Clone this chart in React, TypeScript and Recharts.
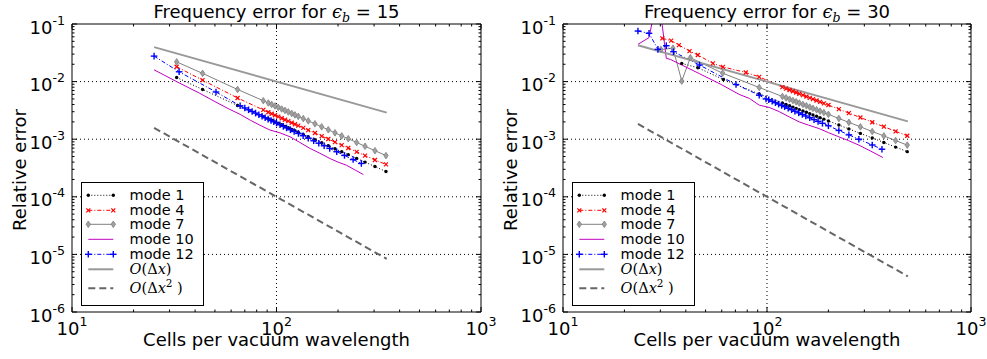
import React from 'react';
import { LineChart, Line, XAxis, YAxis, ReferenceLine, Label, Legend } from 'recharts';

const FONT = 'DejaVu Sans';
const MATH = 'DejaVu Serif';

// ---------- axis ticks ----------
const X_TICKS = [10, 20, 30, 40, 50, 60, 70, 80, 90, 100, 200, 300, 400, 500, 600, 700, 800, 900, 1000];
const Y_TICKS = [
  1e-6, 2e-6, 3e-6, 4e-6, 5e-6, 6e-6, 7e-6, 8e-6, 9e-6,
  1e-5, 2e-5, 3e-5, 4e-5, 5e-5, 6e-5, 7e-5, 8e-5, 9e-5,
  1e-4, 2e-4, 3e-4, 4e-4, 5e-4, 6e-4, 7e-4, 8e-4, 9e-4,
  1e-3, 2e-3, 3e-3, 4e-3, 5e-3, 6e-3, 7e-3, 8e-3, 9e-3,
  1e-2, 2e-2, 3e-2, 4e-2, 5e-2, 6e-2, 7e-2, 8e-2, 9e-2,
  1e-1,
];
const X_GRID = [100];
const Y_GRID = [1e-2, 1e-3, 1e-4, 1e-5];

// ---------- left panel (eps_b = 15) ----------
const leftMode1X = [32.5, 43.5, 64.5, 86.2, 91.2, 94.7, 98.3, 102, 106, 110, 114.2, 118.7, 123.1, 127.8, 135.2, 143, 154.2, 166.3, 179.2, 193.2, 208.4, 224.4, 246.6, 271, 303, 343];
const leftMode1Y = [0.0118, 0.0073, 0.00385, 0.00247, 0.00226, 0.00213, 0.002, 0.00189, 0.00178, 0.00167, 0.00158, 0.00148, 0.0014, 0.00132, 0.00121, 0.0011, 0.00098, 0.00087, 0.000774, 0.000684, 0.000604, 0.00054, 0.000464, 0.0004, 0.000335, 0.000275];
const leftMode4X = leftMode1X;
const leftMode4Y = [0.0181, 0.0106, 0.0052, 0.00322, 0.00294, 0.00277, 0.00261, 0.00246, 0.00231, 0.00218, 0.00206, 0.00193, 0.00182, 0.00172, 0.00157, 0.00144, 0.00128, 0.00113, 0.00101, 0.00089, 0.000787, 0.000704, 0.000604, 0.00052, 0.000436, 0.000365];
const leftMode7X = leftMode1X;
const leftMode7Y = [0.022, 0.0139, 0.0073, 0.00466, 0.00426, 0.00401, 0.00378, 0.00357, 0.00335, 0.00316, 0.00298, 0.0028, 0.00264, 0.00249, 0.00228, 0.00208, 0.00185, 0.00164, 0.00146, 0.00129, 0.00114, 0.00102, 0.000876, 0.000754, 0.000632, 0.000519];
const leftMode10X = [25.2, 33.4, 42, 50.6, 58, 66.4, 74.4, 83, 93, 104, 116.5, 130, 146, 163, 183, 200, 220, 243, 266];
const leftMode10Y = [0.016, 0.0095, 0.0063, 0.0044, 0.0034, 0.0027, 0.00214, 0.00175, 0.00144, 0.00129, 0.0011, 0.00088, 0.00069, 0.00057, 0.00046, 0.0004, 0.000353, 0.00029, 0.000243];
const leftMode12X = [25.2, 33.4, 50.6, 66.4, 70, 73, 76, 79, 82, 85, 88, 91, 94, 97, 100, 104, 108, 112, 117, 122, 128, 135, 143, 152, 161, 171, 182, 197, 215, 237, 260];
const leftMode12Y = [0.0277, 0.0148, 0.0066, 0.0038, 0.00348, 0.00324, 0.00303, 0.00284, 0.00266, 0.00251, 0.00236, 0.00223, 0.00211, 0.00201, 0.00191, 0.00178, 0.00167, 0.00157, 0.00146, 0.00136, 0.00126, 0.00115, 0.00104, 0.000939, 0.000852, 0.000769, 0.000692, 0.000606, 0.000523, 0.000443, 0.000379];
const leftODxX = [25.2, 346];
const leftODxY = [0.0397, 0.00289];
const leftODx2X = [25.2, 346];
const leftODx2Y = [0.001575, 0.00000835];

// ---------- right panel (eps_b = 30) ----------
const rightMode1X = [38.2, 45.8, 61.1, 91.6, 119, 124, 129, 134, 139, 144, 150, 156, 162, 168, 175, 182, 190, 200, 225, 252, 287, 328, 374, 427, 487];
const rightMode1Y = [0.0207, 0.0174, 0.0109, 0.0061, 0.00425, 0.00402, 0.0038, 0.00361, 0.00343, 0.00326, 0.00309, 0.00293, 0.00278, 0.00264, 0.0025, 0.00236, 0.00223, 0.00208, 0.00176, 0.00151, 0.00126, 0.00105, 0.000878, 0.000729, 0.000608];
const rightMode4X = [30.7, 33.9, 37, 41.7, 45.8, 54.3, 60.8, 78.7, 91.6, 119, 124, 129, 134, 139, 144, 150, 156, 162, 168, 175, 182, 190, 200, 225, 252, 287, 328, 374, 427, 487];
const rightMode4Y = [0.0564, 0.0513, 0.0431, 0.0339, 0.029, 0.0207, 0.018, 0.0144, 0.0121, 0.008, 0.00757, 0.00716, 0.0068, 0.00647, 0.00615, 0.00581, 0.00551, 0.00523, 0.00497, 0.0047, 0.00445, 0.0042, 0.00392, 0.00332, 0.00284, 0.00238, 0.00197, 0.00165, 0.00137, 0.00115];
const rightMode7X = [30.2, 34.6, 38.2, 42.1, 60.6, 91.6, 119, 124, 129, 134, 139, 144, 150, 156, 162, 168, 175, 182, 190, 200, 225, 252, 287, 328, 374, 427, 487];
const rightMode7Y = [0.036, 0.038, 0.0102, 0.026, 0.014, 0.0079, 0.00552, 0.00522, 0.00494, 0.00469, 0.00446, 0.00424, 0.00401, 0.0038, 0.00361, 0.00343, 0.00324, 0.00307, 0.0029, 0.0027, 0.00229, 0.00196, 0.00164, 0.00136, 0.00114, 0.000947, 0.00079];
const rightMode10X = [23.3, 26.4, 29.3, 32.1, 33.6, 46.7, 60, 73, 82, 91.6, 102.5, 115, 128.5, 143.8, 160, 180, 200, 225, 250, 282, 320, 370];
const rightMode10Y = [0.0444, 0.058, 0.35, 0.0253, 0.0243, 0.0137, 0.0088, 0.006, 0.0051, 0.0039, 0.00356, 0.003, 0.00244, 0.002, 0.00175, 0.00153, 0.0013, 0.0011, 0.00095, 0.00079, 0.00063, 0.00048];
const rightMode12X = [23.3, 26.4, 29.2, 32.1, 34.8, 46.7, 70.5, 91.6, 98.9, 102, 106, 110, 114, 118, 122, 127, 132, 137, 143, 149, 155, 162, 170, 178, 187, 200, 225, 252, 282, 328, 366];
const rightMode12Y = [0.0755, 0.0689, 0.0363, 0.042, 0.033, 0.0194, 0.0089, 0.0058, 0.005, 0.00484, 0.00456, 0.0043, 0.00407, 0.00386, 0.00367, 0.00345, 0.00325, 0.00306, 0.00287, 0.00269, 0.00253, 0.00236, 0.00219, 0.00204, 0.00189, 0.00171, 0.00142, 0.00119, 0.001, 0.000794, 0.00067];
const rightODxX = [23.3, 490];
const rightODxY = [0.0429, 0.00204];
const rightODx2X = [23.3, 490];
const rightODx2Y = [0.001842, 0.000004165];

// ---------- styles ----------
type MarkerKind = 'dot' | 'x' | 'diamond' | 'plus' | null;
type Style = { key: string; label: string; color: string; width: number; dash?: string; marker: MarkerKind };

const STYLES: Style[] = [
  { key: 'm1', label: 'mode 1', color: '#000000', width: 1, dash: '1 2', marker: 'dot' },
  { key: 'm4', label: 'mode 4', color: '#ff0000', width: 1, dash: '4 2 1 2', marker: 'x' },
  { key: 'm7', label: 'mode 7', color: '#808080', width: 1, marker: 'diamond' },
  { key: 'm10', label: 'mode 10', color: '#bf00bf', width: 1, marker: null },
  { key: 'm12', label: 'mode 12', color: '#0000ff', width: 1, dash: '4 2 1 2', marker: 'plus' },
  { key: 'o1', label: 'O1', color: '#999999', width: 2, marker: null },
  { key: 'o2', label: 'O2', color: '#666666', width: 2, dash: '7 4', marker: null },
];

const mk = (xs: number[], ys: number[]) => xs.map((x, i) => ({ x, y: ys[i] }));

const LEFT_DATA = [
  mk(leftMode1X, leftMode1Y), mk(leftMode4X, leftMode4Y), mk(leftMode7X, leftMode7Y),
  mk(leftMode10X, leftMode10Y), mk(leftMode12X, leftMode12Y), mk(leftODxX, leftODxY), mk(leftODx2X, leftODx2Y),
];
const RIGHT_DATA = [
  mk(rightMode1X, rightMode1Y), mk(rightMode4X, rightMode4Y), mk(rightMode7X, rightMode7Y),
  mk(rightMode10X, rightMode10Y), mk(rightMode12X, rightMode12Y), mk(rightODxX, rightODxY), mk(rightODx2X, rightODx2Y),
];

function drawMarker(kind: MarkerKind, cx: number, cy: number, color: string, key: string | number) {
  if (kind === 'dot') return <circle key={key} cx={cx} cy={cy} r={1.7} fill={color} />;
  if (kind === 'x')
    return (
      <g key={key} stroke={color} strokeWidth={1.2}>
        <line x1={cx - 2} y1={cy - 2} x2={cx + 2} y2={cy + 2} />
        <line x1={cx - 2} y1={cy + 2} x2={cx + 2} y2={cy - 2} />
      </g>
    );
  if (kind === 'diamond')
    return (
      <polygon key={key} points={`${cx},${cy - 3.3} ${cx + 2.2},${cy} ${cx},${cy + 3.3} ${cx - 2.2},${cy}`} fill="#a0a0a0" stroke="#808080" strokeWidth={0.8} />
    );
  if (kind === 'plus')
    return (
      <g key={key} stroke={color} strokeWidth={1.4}>
        <line x1={cx - 3.3} y1={cy} x2={cx + 3.3} y2={cy} />
        <line x1={cx} y1={cy - 3.3} x2={cx} y2={cy + 3.3} />
      </g>
    );
  return null;
}

const isMajor = (v: number) => Math.abs(Math.log10(v) - Math.round(Math.log10(v))) < 1e-6;

const XTickBottom = (p: any) => {
  const { x, y, payload } = p;
  const v = payload.value;
  const major = isMajor(v);
  const e = Math.round(Math.log10(v));
  return (
    <g>
      <line x1={x} x2={x} y1={y} y2={y - (major ? 5 : 2.5)} stroke="#000" strokeWidth={1} />
      {major && (
        <text x={x} y={y + 23} textAnchor="middle" fontFamily={FONT} fontSize={18} fill="#000">
          10<tspan dy={-9} fontSize={12.6}>{e}</tspan>
        </text>
      )}
    </g>
  );
};
const XTickTop = (p: any) => {
  const { x, y, payload } = p;
  const major = isMajor(payload.value);
  return <line x1={x} x2={x} y1={y} y2={y + (major ? 5 : 2.5)} stroke="#000" strokeWidth={1} />;
};
const YTickLeft = (p: any) => {
  const { x, y, payload } = p;
  const v = payload.value;
  const major = isMajor(v);
  const e = Math.round(Math.log10(v));
  return (
    <g>
      <line x1={x} x2={x + (major ? 5 : 2.5)} y1={y} y2={y} stroke="#000" strokeWidth={1} />
      {major && (
        <text x={x - 7} y={y + 9.5} textAnchor="end" fontFamily={FONT} fontSize={18} fill="#000">
          10<tspan dy={-9} fontSize={12.6}>{e}</tspan>
        </text>
      )}
    </g>
  );
};
const YTickRight = (p: any) => {
  const { x, y, payload } = p;
  const major = isMajor(payload.value);
  return <line x1={x} x2={x - (major ? 5 : 2.5)} y1={y} y2={y} stroke="#000" strokeWidth={1} />;
};

function legendLabel(s: Style) {
  if (s.key === 'o1')
    return (
      <>
        <tspan fontFamily={MATH} fontStyle="italic">O</tspan>
        <tspan fontFamily={MATH}>(Δ</tspan>
        <tspan fontFamily={MATH} fontStyle="italic">x</tspan>
        <tspan fontFamily={MATH}>)</tspan>
      </>
    );
  if (s.key === 'o2')
    return (
      <>
        <tspan fontFamily={MATH} fontStyle="italic">O</tspan>
        <tspan fontFamily={MATH}>(Δ</tspan>
        <tspan fontFamily={MATH} fontStyle="italic">x</tspan>
        <tspan fontFamily={MATH} fontSize={10.5} dy={-6}>2</tspan>
        <tspan fontFamily={MATH} dy={6}> )</tspan>
      </>
    );
  return s.label;
}

const LEGEND_ROWS = [13.3, 28.3, 42.3, 57.3, 72.3, 87.3, 106.3];

const LegendBox = () => (
  <svg width={124} height={125} style={{ display: 'block', overflow: 'visible' }}>
    <rect x={0.5} y={0.5} width={122} height={123} fill="#ffffff" stroke="#000" strokeWidth={1} />
    {STYLES.map((s, i) => {
      const y = LEGEND_ROWS[i];
      return (
        <g key={s.key}>
          <line x1={7.3} x2={32.3} y1={y} y2={y} stroke={s.color} strokeWidth={s.width} strokeDasharray={s.dash} />
          {s.marker && drawMarker(s.marker, 7.3, y, s.color, 'a')}
          {s.marker && drawMarker(s.marker, 32.3, y, s.color, 'b')}
          <text x={48.6} y={y + 5} fontFamily={FONT} fontSize={14.5} fill="#000">
            {legendLabel(s)}
          </text>
        </g>
      );
    })}
  </svg>
);

type PanelProps = {
  left: number; width: number; marginLeft: number; marginRight: number;
  data: { x: number; y: number }[][]; eps: string; legendLeft: number;
};

function Panel({ left, width, marginLeft, marginRight, data, eps, legendLeft }: PanelProps) {
  return (
    <div style={{ position: 'absolute', left, top: 0, width, height: 359 }}>
      <LineChart width={width} height={359} margin={{ top: 23, right: marginRight - 1, bottom: 46, left: marginLeft - 1 }} style={{ fontFamily: FONT }}>
        <XAxis xAxisId="b" dataKey="x" type="number" scale="log" domain={[10, 1000]} allowDataOverflow ticks={X_TICKS} interval={0}
          height={1} tickSize={0} tickMargin={0} tickLine={false} axisLine={{ stroke: '#000', strokeWidth: 1 }} tick={XTickBottom}>
          <Label content={(p: any) => {
            const vb = p.viewBox || { x: 0, y: 0, width: 0 };
            return (
              <text x={vb.x + vb.width / 2} y={vb.y + 34} textAnchor="middle" fontFamily={FONT} fontSize={18} fill="#000">
                Cells per vacuum wavelength
              </text>
            );
          }} />
        </XAxis>
        <XAxis xAxisId="t" orientation="top" dataKey="x" type="number" scale="log" domain={[10, 1000]} allowDataOverflow ticks={X_TICKS} interval={0}
          height={1} tickSize={0} tickMargin={0} tickLine={false} axisLine={{ stroke: '#000', strokeWidth: 1 }} tick={XTickTop}>
          <Label content={(p: any) => {
            const vb = p.viewBox || { x: 0, y: 0, width: 0, height: 0 };
            return (
              <text x={vb.x + vb.width / 2} y={vb.y + vb.height - 6} textAnchor="middle" fontFamily={FONT} fontSize={18} fill="#000">
                Frequency error for{' '}
                <tspan fontFamily={MATH} fontStyle="italic">ϵ</tspan>
                <tspan fontFamily={MATH} fontStyle="italic" fontSize={12.6} dy={4}>b</tspan>
                <tspan dy={-4}>{' = ' + eps}</tspan>
              </text>
            );
          }} />
        </XAxis>
        <YAxis yAxisId="l" type="number" scale="log" domain={[1e-6, 1e-1]} allowDataOverflow ticks={Y_TICKS} interval={0}
          width={1} tickSize={0} tickMargin={0} tickLine={false} axisLine={{ stroke: '#000', strokeWidth: 1 }} tick={YTickLeft}>
          <Label content={(p: any) => {
            const vb = p.viewBox || { x: 0, y: 0, width: 0, height: 0 };
            const cx = vb.x + vb.width - 46;
            const cy = vb.y + vb.height / 2 + 2;
            return (
              <text x={cx} y={cy} transform={`rotate(-90, ${cx}, ${cy})`} textAnchor="middle" fontFamily={FONT} fontSize={18} fill="#000">
                Relative error
              </text>
            );
          }} />
        </YAxis>
        <YAxis yAxisId="r" orientation="right" type="number" scale="log" domain={[1e-6, 1e-1]} allowDataOverflow ticks={Y_TICKS} interval={0}
          width={1} tickSize={0} tickMargin={0} tickLine={false} axisLine={{ stroke: '#000', strokeWidth: 1 }} tick={YTickRight} />

        {X_GRID.map((v) => (
          <ReferenceLine key={'gx' + v} xAxisId="b" yAxisId="l" x={v} stroke="#000" strokeWidth={1} strokeDasharray="1 3" />
        ))}
        {Y_GRID.map((v) => (
          <ReferenceLine key={'gy' + v} xAxisId="b" yAxisId="l" y={v} stroke="#000" strokeWidth={1} strokeDasharray="1 3" />
        ))}

        {STYLES.map((s, i) => (
          <Line
            key={s.key}
            xAxisId="b"
            yAxisId="l"
            data={data[i]}
            dataKey="y"
            name={s.label}
            type="linear"
            stroke={s.color}
            strokeWidth={s.width}
            strokeDasharray={s.dash}
            isAnimationActive={false}
            legendType="none"
            dot={s.marker ? (p: any) => {
              if (p.cx == null || p.cy == null) return <g key={`${s.key}-${p.index}`} />;
              return drawMarker(s.marker, p.cx, p.cy, s.color, `${s.key}-${p.index}`) as any;
            } : false}
            activeDot={false}
          />
        ))}
        <Legend layout="vertical" align="center" verticalAlign="middle"
          wrapperStyle={{ left: legendLeft, top: 181.5, width: 124, height: 125 }}
          content={() => <LegendBox />} />
      </LineChart>
    </div>
  );
}

export default function App() {
  return (
    <div style={{ position: 'absolute', left: 0, top: 0, width: 987, height: 359, background: '#fff' }}>
      <Panel left={0} width={512} marginLeft={72} marginRight={31} data={LEFT_DATA} eps="15" legendLeft={80.5} />
      <Panel left={490} width={497} marginLeft={73} marginRight={16} data={RIGHT_DATA} eps="30" legendLeft={81.7} />
    </div>
  );
}
